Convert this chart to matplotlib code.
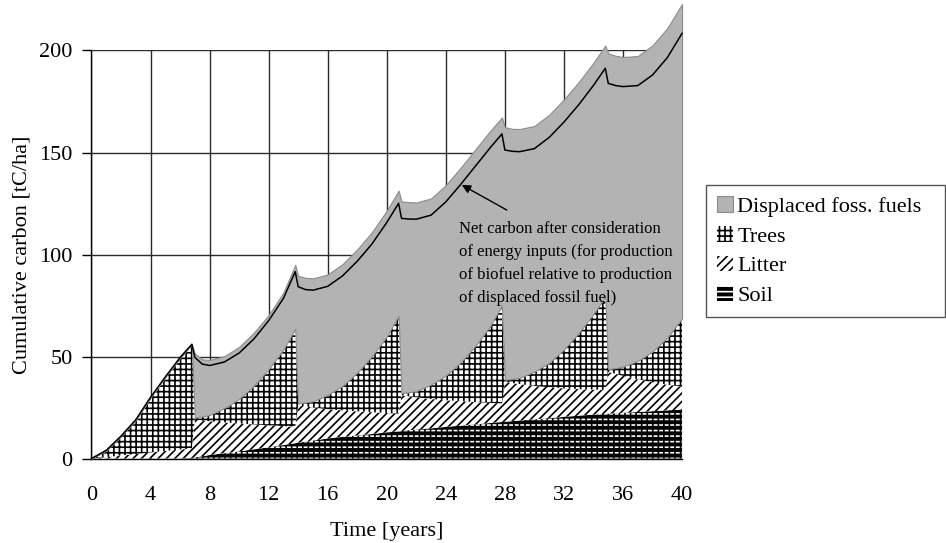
import numpy as np
import matplotlib
matplotlib.use("Agg")
import matplotlib.pyplot as plt

plt.rcParams['font.family'] = ['Liberation Serif', 'DejaVu Serif']
plt.rcParams['hatch.linewidth'] = 1.2

# --- data (tC/ha), harvest every 7 years ---
years = [0, 1, 2, 3, 4, 5, 6, 6.8,
         7, 7.5, 8, 9, 10, 11, 12, 13, 13.8,
         14, 14.5, 15, 16, 17, 18, 19, 20, 20.8,
         21, 21.5, 22, 23, 24, 25, 26, 27, 27.8,
         28, 28.5, 29, 30, 31, 32, 33, 34, 34.8,
         35, 35.5, 36, 37, 38, 39, 40]

soil = [0, 0, 0, 0, 0, 0, 0, 0.3,
        0.5, 1.1, 1.7, 2.6, 3.5, 4.5, 5.5, 6.6, 7.5,
        7.7, 8.3, 8.8, 9.8, 10.6, 11.3, 12.0, 12.8, 13.3,
        13.5, 13.9, 14.2, 14.8, 15.5, 16.1, 16.8, 17.4, 17.9,
        18.0, 18.3, 18.6, 19.2, 19.8, 20.4, 21.0, 21.5, 21.9,
        22.0, 22.2, 22.4, 22.8, 23.2, 23.6, 24.0]

litter = [0, 0.7, 1.5, 2.2, 3.0, 3.7, 4.4, 4.7,
          18.5, 17.5, 16.6, 15.1, 13.7, 12.2, 10.8, 9.3, 8.1,
          18.3, 17.2, 16.2, 14.4, 13.0, 11.8, 10.7, 9.5, 8.7,
          17.5, 16.6, 15.8, 14.4, 13.1, 12.0, 10.9, 9.9, 9.1,
          19.6, 18.7, 17.9, 16.4, 15.1, 14.0, 13.0, 12.3, 11.7,
          20.5, 19.3, 18.1, 16.0, 14.2, 12.6, 11.2]

trees = [0, 3.3, 9.5, 16.8, 27.0, 36.3, 45.1, 51.0,
         1.0, 2.0, 3.0, 7.0, 12.0, 19.0, 27.5, 37.5, 48.0,
         1.0, 2.0, 3.0, 7.0, 12.0, 19.0, 27.5, 37.5, 48.0,
         1.0, 2.0, 3.0, 7.0, 12.0, 19.0, 27.5, 37.5, 48.0,
         1.0, 2.0, 3.0, 7.0, 12.0, 19.0, 27.5, 37.0, 45.7,
         1.3, 2.8, 4.5, 9.0, 15.0, 23.0, 33.5]

displaced = [0, 0, 0, 0, 0, 0, 0, 0,
             31.5, 28.0, 27.0, 25.5, 25.5, 26.0, 26.5, 28.0, 31.3,
             62.5, 61.1, 60.3, 59.0, 59.7, 60.4, 60.8, 61.7, 61.3,
             94.0, 93.2, 92.5, 91.3, 93.4, 95.4, 96.3, 95.7, 92.2,
             123.8, 122.6, 122.0, 120.4, 121.6, 122.6, 123.0, 123.2, 123.1,
             154.8, 153.1, 151.8, 149.5, 150.1, 151.8, 154.1]

net_carbon = [0, 4.0, 11.0, 19.0, 30.0, 40.0, 49.5, 56.0,
              49.6, 46.3, 45.6, 47.3, 51.7, 58.6, 67.6, 78.5, 91.6,
              84.2, 82.8, 82.5, 84.4, 89.5, 96.7, 105.2, 115.7, 125.1,
              117.7, 117.4, 117.3, 119.3, 125.8, 134.3, 143.3, 152.3, 159.1,
              151.2, 150.6, 150.4, 151.9, 157.4, 164.9, 173.4, 182.9, 191.3,
              183.9, 182.8, 182.3, 182.8, 188.0, 196.5, 208.4]

x_ticks = [0, 4, 8, 12, 16, 20, 24, 28, 32, 36, 40]
y_ticks = [0, 50, 100, 150, 200]

note = ('Net carbon after consideration\nof energy inputs (for production\n'
        'of biofuel relative to production\nof displaced fossil fuel)')

# stacked boundaries
s_top = np.array(soil)
l_top = s_top + np.array(litter)
t_top = l_top + np.array(trees)
g_top = t_top + np.array(displaced)

fig = plt.figure(figsize=(9.46, 5.43), dpi=100)
ax = fig.add_axes([0.0967, 0.1556, 0.6243, 0.7514])

# soil: black with white dashes (white stripes broken by black verticals)
h_soil = ax.fill_between(years, 0, s_top, facecolor='black', edgecolor='white',
                         hatch='---', linewidth=0, clip_on=False, zorder=2, label='Soil')
ax.fill_between(years, 0, s_top, facecolor='none', edgecolor='black',
                hatch='|||', linewidth=0, clip_on=False, zorder=2)
h_litter = ax.fill_between(years, s_top, l_top, facecolor='white', edgecolor='black',
                           hatch='////', linewidth=0, clip_on=False, zorder=2, label='Litter')
h_trees = ax.fill_between(years, l_top, t_top, facecolor='white', edgecolor='black',
                          hatch='+++', linewidth=0, clip_on=False, zorder=2, label='Trees')
h_disp = ax.fill_between(years, t_top, g_top, facecolor='#b3b3b3', edgecolor='#8c8c8c',
                         linewidth=0.8, clip_on=False, zorder=3, label='Displaced foss. fuels')
ax.plot(years, net_carbon, color='black', lw=1.1, clip_on=False, zorder=5)

ax.text(24.9, 116.5, note, ha='left', va='top', fontsize=12, linespacing=1.6, zorder=6)
ax.annotate('', xy=(25.08, 134.1), xytext=(28.13, 121.8),
            arrowprops=dict(arrowstyle='-|>', color='black', lw=1.0,
                            shrinkA=0, shrinkB=0, mutation_scale=13), zorder=6)

ax.set_xlim(0, 40)
ax.set_ylim(0, 200)
ax.set_xticks(x_ticks)
ax.set_yticks(y_ticks)
ax.tick_params(axis='x', length=0, pad=20, labelsize=16)
ax.tick_params(axis='y', length=6.5, width=1, pad=7, labelsize=16, direction='out')
ax.set_axisbelow(True)
ax.grid(True, color='#2b2b2b', linewidth=1.0)
for side in ['top', 'right']:
    ax.spines[side].set_visible(False)
ax.spines['left'].set_linewidth(1.0)
ax.spines['bottom'].set_linewidth(1.0)

ax.set_xlabel('Time [years]', fontsize=16, labelpad=12)
ax.set_ylabel('Cumulative carbon [tC/ha]', fontsize=16, labelpad=6)

leg = fig.legend(handles=[h_disp, h_trees, h_litter, h_soil],
                 loc='upper left', bbox_to_anchor=(706 / 946, (543 - 310) / 543, 239 / 946, 125 / 543),
                 bbox_transform=fig.transFigure, mode='expand', fontsize=16,
                 fancybox=False, edgecolor='#555555', framealpha=1,
                 borderpad=0.5, labelspacing=0.42, handlelength=0.7, handleheight=0.7,
                 handletextpad=0.2, borderaxespad=0)
leg.get_frame().set_linewidth(1.0)

fig.savefig('out.png', dpi=100)
